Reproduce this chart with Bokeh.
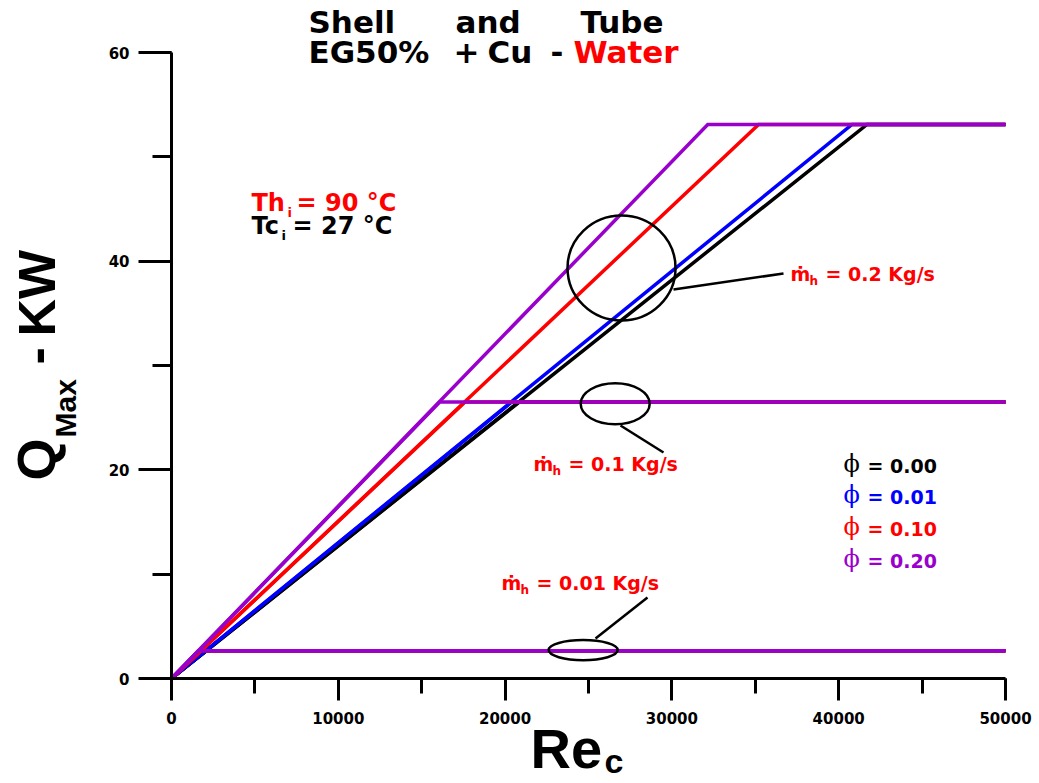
import math
from bokeh.plotting import figure
from bokeh.models import Label, Range1d, SingleIntervalTicker, LinearAxis
from bokeh.embed import file_html
from bokeh.resources import INLINE

# ---------------- data ----------------
phi_labels = ["0.00", "0.01", "0.10", "0.20"]
phi_colors = ["#000000", "#0000FF", "#FF0000", "#9900CC"]
mh_values = ["0.2", "0.1", "0.01"]          # kg/s
q_max = [53.1, 26.5, 2.65]                   # kW, saturation level for each mh
# Re_c at which each phi curve reaches q_max (rows: mh, cols: phi)
re_knee = [
    [41700, 40800, 35200, 32150],
    [20850, 20400, 17600, 16080],
    [2085, 2040, 1760, 1608],
]
re_start = 0
re_end = 50000

# annotation ellipses (data coordinates)
ell_x = [26980, 26600, 24680]
ell_y = [39.35, 26.33, 2.72]
ell_w = [6475, 4137, 4140]
ell_h = [10.06, 3.93, 1.92]

# ---------------- layout ----------------
W, H = 1036, 780
FL, FR, FT, FB = 171, 1005, 52, 678   # where x=0..50000 / y=0..60 fall, in px
XS = 50000 / (FR - FL)
YS = 60 / (FB - FT)
K_BASE = 0.38   # empirical baseline correction for Label text


def dx(px):
    return (px - FL) * XS


def dy(py):
    return (FB - py) * YS


p = figure(width=W, height=H,
           x_range=Range1d(dx(0), dx(W)), y_range=Range1d(dy(H), dy(0)),
           x_axis_location=None, y_axis_location=None,
           output_backend="svg", toolbar_location=None,
           min_border=0, min_border_left=0, min_border_right=0,
           min_border_top=0, min_border_bottom=0)
p.grid.visible = False
p.outline_line_color = None
p.background_fill_color = "white"

xaxis = LinearAxis(fixed_location=0, bounds=(-1000, 50000),
                   ticker=SingleIntervalTicker(interval=10000, num_minor_ticks=2))
yaxis = LinearAxis(fixed_location=0, bounds=(-1.2, 60),
                   ticker=SingleIntervalTicker(interval=20, num_minor_ticks=2))
for ax in (xaxis, yaxis):
    ax.axis_line_width = 3
    ax.major_tick_line_width = 3
    ax.minor_tick_line_width = 3
    ax.major_tick_in = 0
    ax.minor_tick_in = 0
    ax.major_label_text_font = "DejaVu Sans"
    ax.major_label_text_font_style = "bold"
    ax.major_label_text_font_size = "15px"
    ax.major_label_text_color = "black"
xaxis.major_tick_out = 22
xaxis.minor_tick_out = 15
xaxis.major_label_standoff = 11
yaxis.major_tick_out = 33
yaxis.minor_tick_out = 19
yaxis.major_label_standoff = 9
p.add_layout(xaxis, "below")
p.add_layout(yaxis, "left")

# ---------------- lines ----------------
for j, col in enumerate(phi_colors):
    for i, q in enumerate(q_max):
        xs = [re_start, re_knee[i][j], re_end]
        ys = [0, q, q]
        p.line(xs, ys, line_color=col, line_width=3.5, line_join="miter")

# ---------------- ellipses and leaders ----------------
p.ellipse(x=ell_x, y=ell_y, width=ell_w, height=ell_h,
          fill_color=None, line_color="black", line_width=2.5)
lead = [((673, 289), (783, 273)), ((620, 425), (663, 452)), ((595, 638), (647, 597))]
p.segment(x0=[dx(a[0]) for a, b in lead], y0=[dy(a[1]) for a, b in lead],
          x1=[dx(b[0]) for a, b in lead], y1=[dy(b[1]) for a, b in lead],
          line_color="black", line_width=2.5)


def lab(text, px, py, size, color="black", font="DejaVu Sans", style="bold", rotated=False):
    """px, py: start of the text baseline, in picture pixels."""
    if rotated:
        px = px - K_BASE * size
        angle = math.pi / 2
    else:
        py = py - K_BASE * size
        angle = 0.0
    p.add_layout(Label(x=dx(px), y=dy(py), text=text, text_font=font,
                       text_font_size=f"{size}px", text_font_style=style,
                       text_color=color, angle=angle, text_align="left",
                       text_baseline="alphabetic"))


# title
for t, x, y, c in [("Shell", 308, 33, "black"), ("and", 455, 33, "black"), ("Tube", 580, 33, "black"),
                   ("EG50%", 308, 63, "black"), ("+", 453, 63, "black"), ("Cu", 487, 63, "black"),
                   ("-", 550, 63, "black"), ("Water", 573, 63, "#FF0000")]:
    lab(t, x, y, 31, c)

# inlet temperatures
lab("Th", 251, 212, 24, "#FF0000")
lab("i", 287, 217, 13, "#FF0000")
lab("= 90 °C", 296, 212, 24, "#FF0000")
lab("Tc", 251, 235, 24)
lab("i", 281, 240, 13)
lab("= 27 °C", 292, 235, 24)

# mass-flow labels
mh_pos = [(790, 281), (533, 471), (501, 590)]
for m, (x, y) in zip(mh_values, mh_pos):
    lab("ṁ", x, y, 19, "#FF0000")
    lab("h", x + 19, y + 4, 12, "#FF0000")
    lab(f"= {m} Kg/s", x + 35, y, 19, "#FF0000")

# phi legend
leg_y = [473, 504, 536, 568]
for t, c, y in zip(phi_labels, phi_colors, leg_y):
    lab("ϕ", 843, y, 24, c, font="DejaVu Serif", style="normal")
    lab(f"= {t}", 867, y, 19, c)

# axis titles
lab("Q", 56, 480, 54, font="Liberation Sans", rotated=True)
lab("Max", 76, 437, 30, font="Liberation Sans", rotated=True)
lab("-", 55, 364, 52, font="Liberation Sans", rotated=True)
lab("KW", 56, 336, 52, font="Liberation Sans", rotated=True)
lab("Re", 530, 769, 56, font="Liberation Sans")
lab("c", 604, 773, 34, font="Liberation Sans")

open("out.html", "w").write(file_html(p, INLINE))
